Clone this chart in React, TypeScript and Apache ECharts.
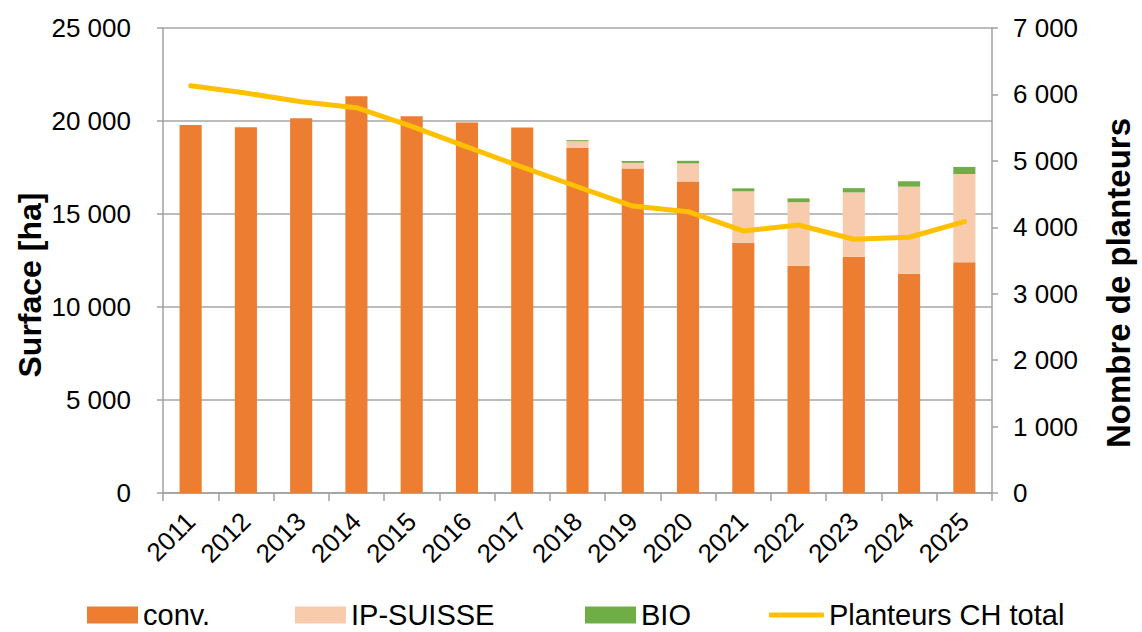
import React, { useEffect, useRef } from "react";
import * as echarts from "echarts";

const years = ["2011","2012","2013","2014","2015","2016","2017","2018","2019","2020","2021","2022","2023","2024","2025"];
const conv = [19790, 19660, 20150, 21330, 20250, 19920, 19650, 18550, 17450, 16750, 13450, 12220, 12700, 11790, 12400];
const ipSuisse = [0, 0, 0, 0, 0, 0, 0, 360, 300, 970, 2770, 3420, 3460, 4680, 4750];
const bio = [0, 0, 0, 0, 0, 0, 0, 60, 100, 140, 160, 200, 230, 290, 380];
const planteurs = [6130, 6020, 5890, 5800, 5520, 5210, 4905, 4610, 4320, 4235, 3945, 4035, 3820, 3850, 4085];

const FONT = "'Liberation Sans', Arial, sans-serif";
const fmt = (v: number) => String(v).replace(/\B(?=(\d{3})+(?!\d))/g, " ");

export default function App() {
  const ref = useRef<HTMLDivElement>(null);
  useEffect(() => {
    document.body.style.margin = "0";
    const chart = echarts.init(ref.current!, null, { renderer: "svg" });
    const legendBase = {
      top: 600,
      padding: 0,
      itemWidth: 51,
      itemHeight: 17,
      textStyle: { fontSize: 29, lineHeight: 30, fontFamily: FONT, color: "#000" },
    };
    chart.setOption({
      animation: false,
      textStyle: { fontFamily: FONT },
      grid: { left: 163, right: 150, top: 28, bottom: 139 },
      legend: [
        { ...legendBase, left: 87, data: [{ name: "conv.", icon: "rect" }] },
        { ...legendBase, left: 295, data: [{ name: "IP-SUISSE", icon: "rect" }] },
        { ...legendBase, left: 585, data: [{ name: "BIO", icon: "rect" }] },
        { ...legendBase, left: 769, itemWidth: 55, itemHeight: 5, data: [{ name: "Planteurs CH total", icon: "roundRect" }] },
      ],
      graphic: [
        {
          type: "text",
          x: 30,
          y: 285,
          rotation: Math.PI / 2,
          style: { text: "Surface [ha]", fontSize: 32, fontWeight: "bold", fontFamily: FONT, fill: "#000", align: "center", verticalAlign: "middle" },
        },
        {
          type: "text",
          x: 1118,
          y: 283,
          rotation: Math.PI / 2,
          style: { text: "Nombre de planteurs", fontSize: 33, fontWeight: "bold", fontFamily: FONT, fill: "#000", align: "center", verticalAlign: "middle" },
        },
      ],
      xAxis: {
        type: "category",
        data: years,
        axisLine: { lineStyle: { color: "#A0A0A0", width: 1.5 } },
        axisTick: { show: true, length: 8, lineStyle: { color: "#A0A0A0", width: 1.5 } },
        axisLabel: { rotate: 45, fontSize: 26, color: "#000", fontFamily: FONT, margin: 24 },
      },
      yAxis: [
        {
          type: "value",
          min: 0,
          max: 25000,
          interval: 5000,
          axisLine: { show: true, lineStyle: { color: "#A0A0A0", width: 1.5 } },
          axisTick: { show: true, length: 6, lineStyle: { color: "#A0A0A0", width: 1.5 } },
          axisLabel: { fontSize: 26, color: "#000", fontFamily: FONT, margin: 32, formatter: fmt },
          splitLine: { show: true, lineStyle: { color: "#A6A6A6", width: 1.5 } },
        },
        {
          type: "value",
          min: 0,
          max: 7000,
          interval: 1000,
          position: "right",
          axisLine: { show: true, lineStyle: { color: "#A0A0A0", width: 1.5 } },
          axisTick: { show: true, length: 6, lineStyle: { color: "#A0A0A0", width: 1.5 } },
          axisLabel: { fontSize: 26, color: "#000", fontFamily: FONT, margin: 21, formatter: fmt },
          splitLine: { show: false },
        },
      ],
      series: [
        { name: "conv.", type: "bar", stack: "s", data: conv, barWidth: "40%", itemStyle: { color: "#ED7D31" } },
        { name: "IP-SUISSE", type: "bar", stack: "s", data: ipSuisse, itemStyle: { color: "#F8CBAD" } },
        { name: "BIO", type: "bar", stack: "s", data: bio, itemStyle: { color: "#70AD47" } },
        {
          name: "Planteurs CH total",
          type: "line",
          yAxisIndex: 1,
          data: planteurs,
          showSymbol: false,
          symbol: "none",
          lineStyle: { color: "#FFC000", width: 5, cap: "round", join: "round" },
          itemStyle: { color: "#FFC000" },
          z: 5,
        },
      ],
    });
    return () => chart.dispose();
  }, []);
  return <div ref={ref} style={{ width: 1142, height: 632 }} />;
}
